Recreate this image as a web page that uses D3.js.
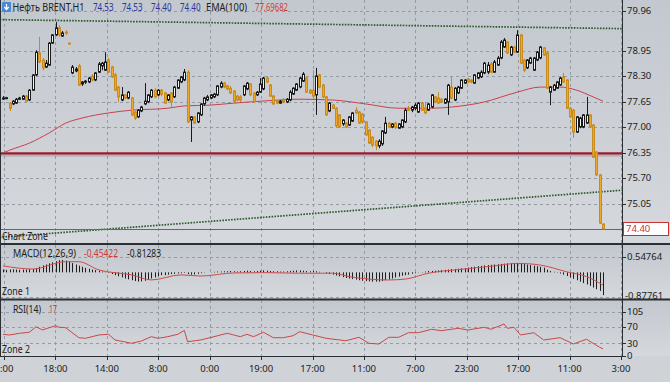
<!DOCTYPE html>
<html>
<head>
<meta charset="utf-8">
<script src="https://cdn.jsdelivr.net/npm/d3@7"></script>
<style>
  html, body { margin: 0; padding: 0; background: #cfd2d7; }
  svg { display: block; font-family: "Noto Sans", sans-serif; }
</style>
</head>
<body>
<svg id="chart" width="670" height="382"></svg>
<script>
// ---- data ----
const opens = [
  77.74,77.74,77.61,77.59,77.61,77.71,77.71,77.79,77.69,77.94,
  78.33,78.89,78.71,78.53,78.58,79.14,79.35,79.53,79.32,79.42,
  79.14,78.38,78.43,78.56,78.10,78.15,78.15,78.30,78.20,78.40,
  78.56,78.45,78.71,78.53,78.33,78.02,77.69,77.82,77.74,77.74,
  77.38,77.26,77.41,77.59,77.64,77.77,77.94,77.82,77.94,77.87,
  77.69,77.87,77.77,77.99,78.15,78.20,78.40,77.18,77.26,77.13,
  77.31,77.59,77.69,77.74,77.77,77.82,78.02,78.12,78.05,77.99,
  77.92,77.79,77.77,77.82,77.97,78.10,77.87,77.82,77.89,77.97,
  78.25,78.07,77.79,77.66,77.61,77.69,77.64,77.69,77.84,77.94,
  78.02,78.17,78.25,77.94,77.94,77.82,78.33,78.07,77.77,77.41,
  77.56,77.48,77.31,77.08,77.10,77.05,77.15,77.43,77.38,77.33,
  77.13,76.92,76.74,76.64,76.52,76.57,76.85,77.10,77.00,77.10,
  76.97,77.00,77.13,77.48,77.43,77.48,77.38,77.61,77.48,77.43,
  77.51,77.77,77.74,77.71,77.61,77.64,78.02,77.69,77.87,77.99,
  78.12,78.22,78.20,78.12,78.25,78.28,78.38,78.40,78.61,78.40,
  78.58,78.76,79.04,79.17,78.84,79.04,78.91,79.35,78.71,78.51,
  78.63,78.45,78.71,78.76,79.02,78.89,77.89,77.94,77.99,78.07,
  78.28,78.20,77.48,77.43,76.87,77.00,77.00,77.10,77.31,77.05,
  76.36,75.78,74.53
];
const highs = [
  77.79,77.77,77.64,77.69,77.74,77.77,77.82,77.82,77.97,78.35,
  78.96,79.30,78.76,78.71,79.17,79.37,79.68,79.60,79.45,79.47,
  79.15,78.58,78.53,78.61,78.17,78.20,78.28,78.35,78.40,78.66,
  78.66,78.91,78.76,78.56,78.38,78.05,78.02,77.84,77.92,77.77,
  77.41,77.46,77.54,78.12,77.84,77.97,77.99,77.97,77.97,77.89,
  77.84,77.89,78.05,78.22,78.30,78.48,78.45,77.28,77.28,77.38,
  77.61,77.77,77.82,77.84,77.87,78.07,78.17,78.15,78.07,78.05,
  77.94,77.82,77.82,78.07,78.15,78.12,77.89,77.92,78.25,78.28,
  78.30,78.10,77.82,77.69,77.69,77.74,77.74,77.94,78.02,78.12,
  78.28,78.40,78.28,77.97,78.45,78.51,78.35,78.10,77.79,77.64,
  77.59,77.51,77.33,77.20,77.13,77.28,77.38,77.51,77.41,77.36,
  77.15,76.95,76.77,76.67,76.69,76.92,77.26,77.13,77.10,77.13,
  77.10,77.20,77.48,77.54,77.54,77.61,77.64,77.64,77.64,77.61,
  77.84,77.79,77.89,77.74,77.74,78.10,78.28,78.02,78.05,78.22,
  78.22,78.25,78.22,78.35,78.40,78.45,78.66,78.66,78.66,78.71,
  78.81,79.22,79.27,79.19,79.07,79.07,79.47,79.37,78.73,78.73,
  78.79,78.79,78.94,79.07,79.04,78.91,78.05,78.10,78.17,78.28,
  78.38,78.22,77.51,77.46,77.28,77.26,77.33,77.77,77.33,77.08,
  76.39,75.80,74.53
];
const lows = [
  77.69,77.71,77.41,77.56,77.59,77.69,77.69,77.64,77.66,77.92,
  78.30,78.63,78.45,78.51,78.56,79.12,79.32,79.30,79.30,79.35,
  79.12,78.35,78.40,78.05,78.05,78.10,78.12,78.17,78.17,78.38,
  78.45,78.43,78.38,78.25,77.92,77.64,77.66,77.71,77.71,77.28,
  77.18,77.23,77.38,77.56,77.61,77.74,77.74,77.79,77.79,77.59,
  77.66,77.51,77.74,77.97,78.12,78.17,77.10,76.62,77.08,77.10,
  77.28,77.54,77.66,77.71,77.74,77.79,77.99,77.99,77.94,77.84,
  77.61,77.66,77.64,77.79,77.94,77.79,77.61,77.79,77.87,77.94,
  78.12,77.77,77.56,77.59,77.59,77.61,77.61,77.66,77.82,77.92,
  77.99,78.15,77.87,77.84,77.77,77.31,77.99,77.74,77.28,77.38,
  77.46,77.00,76.97,77.03,76.97,77.03,77.13,77.33,77.08,77.08,
  76.77,76.57,76.49,76.41,76.46,76.52,76.82,76.97,76.97,76.95,
  76.95,76.97,77.10,77.41,77.38,77.43,77.36,77.41,77.33,77.41,
  77.48,77.61,77.59,77.61,77.59,77.31,77.71,77.66,77.84,77.97,
  78.10,78.12,78.12,78.10,78.22,78.25,78.35,78.35,78.38,78.38,
  78.56,78.73,79.02,78.86,78.81,78.89,78.89,78.61,78.40,78.48,
  78.61,78.43,78.68,78.73,78.81,77.97,77.56,77.92,77.97,78.05,
  78.12,77.46,77.23,76.72,76.85,76.97,76.97,77.08,76.97,76.21,
  75.75,74.53,74.40
];
const closes = [
  77.74,77.75,77.48,77.66,77.71,77.74,77.79,77.66,77.94,78.33,
  78.91,78.66,78.51,78.63,79.14,79.35,79.53,79.35,79.40,79.40,
  79.12,78.53,78.48,78.07,78.15,78.17,78.25,78.20,78.38,78.61,
  78.63,78.66,78.40,78.28,77.94,77.77,77.82,77.74,77.89,77.31,
  77.23,77.43,77.51,77.66,77.82,77.94,77.77,77.94,77.84,77.61,
  77.82,77.64,78.02,78.20,78.28,78.40,77.13,77.26,77.10,77.36,
  77.59,77.74,77.77,77.82,77.84,78.05,78.12,78.02,77.97,77.87,
  77.66,77.69,77.69,78.05,78.12,77.82,77.64,77.89,78.10,78.25,
  78.15,77.79,77.59,77.61,77.66,77.64,77.71,77.89,77.99,78.10,
  78.25,78.35,77.89,77.87,77.79,78.30,78.02,77.77,77.31,77.61,
  77.48,77.03,77.00,77.18,77.00,77.26,77.36,77.36,77.10,77.13,
  76.80,76.59,76.54,76.52,76.64,76.90,77.10,77.00,77.08,77.00,
  77.08,77.18,77.43,77.43,77.51,77.56,77.61,77.43,77.36,77.59,
  77.82,77.64,77.61,77.64,77.71,78.07,77.74,77.99,78.02,78.20,
  78.20,78.15,78.15,78.33,78.38,78.40,78.63,78.58,78.40,78.66,
  78.76,79.17,79.22,78.89,79.04,78.91,79.35,78.63,78.45,78.71,
  78.76,78.76,78.91,79.04,78.84,77.99,78.02,78.07,78.15,78.25,
  78.15,77.48,77.26,76.87,77.26,77.23,77.31,77.31,77.00,76.23,
  75.78,74.55,74.40
];

// EMA(100) read at some bars
const emaIdx = [0,2,8,14,19,24,32,39,50,55,63,70,80,90,100,110,120,130,136,146,156,163,169,174,179,182];
const emaVal = [76.34,76.41,76.59,76.85,77.10,77.23,77.36,77.43,77.48,77.54,77.56,77.61,77.67,77.71,77.69,77.59,77.48,77.48,77.51,77.64,77.89,78.02,78.02,77.94,77.77,77.66];

// MACD histogram, one value per bar
const macdHist = [
  0.10,0.09,0.10,0.11,0.10,0.09,0.10,0.10,0.11,0.12,
  0.15,0.20,0.25,0.28,0.32,0.36,0.40,0.43,0.44,0.42,
  0.38,0.33,0.28,0.24,0.20,0.16,0.13,0.10,0.08,0.06,
  0.03,0.01,-0.02,-0.06,-0.10,-0.14,-0.18,-0.22,-0.25,-0.28,
  -0.31,-0.33,-0.32,-0.30,-0.26,-0.22,-0.18,-0.13,-0.10,-0.10,
  -0.08,-0.06,-0.05,-0.04,-0.03,-0.02,-0.06,-0.08,-0.07,-0.05,
  -0.03,-0.01,0.00,0.01,0.02,0.03,0.03,0.04,0.04,0.05,
  0.04,0.03,0.04,0.05,0.06,0.05,0.04,0.05,0.06,0.07,
  0.06,0.05,0.04,0.04,0.03,0.03,0.04,0.05,0.06,0.07,
  0.07,0.06,0.05,0.04,0.05,0.04,0.02,0.00,-0.03,-0.06,
  -0.08,-0.11,-0.14,-0.17,-0.20,-0.22,-0.24,-0.26,-0.28,-0.30,
  -0.31,-0.32,-0.33,-0.33,-0.33,-0.31,-0.28,-0.25,-0.22,-0.18,
  -0.15,-0.12,-0.10,-0.08,-0.05,-0.03,-0.01,0.01,0.03,0.05,
  0.05,0.06,0.07,0.08,0.09,0.10,0.11,0.12,0.13,0.14,
  0.15,0.17,0.19,0.20,0.22,0.23,0.25,0.26,0.27,0.28,
  0.29,0.30,0.31,0.32,0.32,0.33,0.33,0.32,0.30,0.28,
  0.26,0.24,0.22,0.20,0.17,0.10,0.05,0.02,-0.01,-0.04,
  -0.08,-0.13,-0.18,-0.23,-0.28,-0.33,-0.38,-0.43,-0.48,-0.54,
  -0.60,-0.66,-0.81283
];
const sigIdx = [0,9,19,23,29,39,45,54,60,70,80,90,100,105,117,122,129,139,149,156,163,171,177,182];
const sigVal = [0.23,0.12,0.38,0.38,0.09,-0.09,-0.27,-0.09,-0.13,-0.02,-0.01,-0.03,-0.03,-0.15,-0.27,-0.24,-0.03,0.11,0.23,0.32,0.26,0.02,-0.15,-0.45422];

// RSI(14) read at some bars
const rsiIdx = [0,2,5,8,10,12,14,16,17,19,23,25,29,32,34,39,42,45,47,50,53,55,56,60,64,68,70,72,74,76,79,82,85,88,90,94,98,104,108,111,114,117,120,123,126,130,133,138,141,146,148,152,153,155,157,161,164,169,173,177,181,182];
const rsiVal = [51.8,50.1,54.2,56.6,69.9,62.1,67.5,72.3,68.5,67.5,43.7,42.2,50.1,51.8,38.2,30.3,35.8,46.1,42.2,46.1,51.8,61,34.1,38.2,46.1,54.2,50.1,46.1,51.8,46.1,56.6,43.7,43.7,48.4,58,50.1,42.2,36.5,44.6,30.3,28.6,44.6,44.6,55.6,55.6,63.7,60.4,66.1,62.1,68.5,63.7,76.4,66.1,68.5,50.1,55.6,38.2,43.7,28.6,40,20.8,17];

// drawn objects
const levels = [76.33];
const lastPrice = 74.40;
const trendTop = [[-1, 79.74], [188, 79.51]];
const trendLow = [[-1, 74.19], [188, 75.39]];

// axis labels
const timeLabels = ["0:00","18:00","14:00","8:00","0:00","19:00","17:00","11:00","7:00","23:00","17:00","11:00","3:00"];
const priceTicks = [79.96, 78.95, 78.30, 77.65, 77.00, 76.35, 75.70, 75.05];
const macdTicks = [0.54764, -0.87761];
const rsiTicks = [105, 70, 30, 0];

// ---- layout ----
const WIDTH = 670;
const HEIGHT = 382;
const AXIS_X = 622;
const MAIN = {top: 0, bottom: 243};
const MACD = {top: 245, bottom: 298};
const RSI = {top: 300, bottom: 356};

const svg = d3.select("#chart");
const defs = svg.append("defs");

const grad = defs.append("linearGradient")
  .attr("id", "paneBg")
  .attr("x1", 0).attr("y1", 0).attr("x2", 0).attr("y2", 1);
grad.append("stop").attr("offset", "0%").attr("stop-color", "#c3c8cf");
grad.append("stop").attr("offset", "100%").attr("stop-color", "#d5d8dc");

defs.append("clipPath").attr("id", "clipMain")
  .append("rect").attr("x", 0).attr("y", MAIN.top).attr("width", AXIS_X).attr("height", MAIN.bottom - MAIN.top);
defs.append("clipPath").attr("id", "clipMacd")
  .append("rect").attr("x", 0).attr("y", MACD.top).attr("width", AXIS_X).attr("height", MACD.bottom - MACD.top);
defs.append("clipPath").attr("id", "clipRsi")
  .append("rect").attr("x", 0).attr("y", RSI.top).attr("width", AXIS_X).attr("height", RSI.bottom - RSI.top);

svg.append("rect").attr("width", WIDTH).attr("height", HEIGHT).attr("fill", "#cfd2d7");
[MAIN, MACD, RSI].forEach((p) => {
  svg.append("rect")
    .attr("x", 0).attr("y", p.top)
    .attr("width", WIDTH).attr("height", p.bottom - p.top)
    .attr("fill", "url(#paneBg)");
});

// scales
const xBar = d3.scaleLinear().domain([0, closes.length - 1]).range([3, 603]);
const xTime = d3.scalePoint().domain(d3.range(timeLabels.length)).range([4, 621]);
const yPrice = d3.scaleLinear().domain([74.40, 79.96]).range([229, 11]);
const yMacd = d3.scaleLinear().domain([-0.87761, 0.54764]).range([297, 257]);
const yRsi = d3.scaleLinear().domain([0, 105]).range([356, 312]);

const crisp = (v) => Math.round(v) + 0.5;

// grids
const grid = svg.append("g")
  .attr("stroke", "#949ba5")
  .attr("stroke-width", 1)
  .attr("stroke-dasharray", "3,3")
  .attr("fill", "none");

[MAIN, MACD, RSI].forEach((p) => {
  grid.selectAll(null)
    .data(d3.range(timeLabels.length))
    .enter()
    .append("line")
      .attr("x1", (d) => crisp(xTime(d)))
      .attr("x2", (d) => crisp(xTime(d)))
      .attr("y1", p.top)
      .attr("y2", p.bottom);
});
grid.selectAll(null).data(priceTicks).enter().append("line")
  .attr("x1", 0).attr("x2", AXIS_X)
  .attr("y1", (d) => crisp(yPrice(d))).attr("y2", (d) => crisp(yPrice(d)));
grid.selectAll(null).data(macdTicks).enter().append("line")
  .attr("x1", 0).attr("x2", AXIS_X)
  .attr("y1", (d) => crisp(yMacd(d))).attr("y2", (d) => crisp(yMacd(d)));
grid.selectAll(null).data(rsiTicks.filter((d) => d > 0)).enter().append("line")
  .attr("x1", 0).attr("x2", AXIS_X)
  .attr("y1", (d) => crisp(yRsi(d))).attr("y2", (d) => crisp(yRsi(d)));

// ---- main pane ----
const main = svg.append("g").attr("clip-path", "url(#clipMain)");

// trend lines
const trendLine = d3.line()
  .x((d) => xBar(d[0]))
  .y((d) => yPrice(d[1]));
[trendTop, trendLow].forEach((t) => {
  main.append("path")
    .attr("d", trendLine(t))
    .attr("fill", "none")
    .attr("stroke", "#2c5a2c")
    .attr("stroke-width", 1.7)
    .attr("stroke-dasharray", "1.6,1.3");
});

// horizontal levels
levels.forEach((lv) => {
  main.append("line")
    .attr("x1", 0).attr("x2", AXIS_X)
    .attr("y1", yPrice(lv) + 2).attr("y2", yPrice(lv) + 2)
    .attr("stroke", "#7c6a70").attr("stroke-opacity", 0.3).attr("stroke-width", 3);
  main.append("line")
    .attr("x1", 0).attr("x2", AXIS_X)
    .attr("y1", yPrice(lv)).attr("y2", yPrice(lv))
    .attr("stroke", "#9b1c2c").attr("stroke-width", 2.4);
});
main.append("line")
  .attr("x1", 0).attr("x2", AXIS_X)
  .attr("y1", crisp(yPrice(lastPrice))).attr("y2", crisp(yPrice(lastPrice)))
  .attr("stroke", "#cf3a3a").attr("stroke-width", 1);

// EMA
main.append("path")
  .datum(emaIdx.map((d, i) => [d, emaVal[i]]))
  .attr("d", d3.line().curve(d3.curveMonotoneX).x((d) => xBar(d[0])).y((d) => yPrice(d[1])))
  .attr("fill", "none")
  .attr("stroke", "#c8414c")
  .attr("stroke-width", 1);

// candles
const bars = closes.map((c, i) => ({i: i, o: opens[i], h: highs[i], l: lows[i], c: c}));
const candle = main.selectAll("g.candle")
  .data(bars)
  .enter()
  .append("g")
    .attr("class", "candle");

candle.append("line")
  .attr("x1", (d) => crisp(xBar(d.i)))
  .attr("x2", (d) => crisp(xBar(d.i)))
  .attr("y1", (d) => yPrice(d.h))
  .attr("y2", (d) => yPrice(d.l))
  .attr("stroke", (d) => d.c >= d.o ? "#1a1a1a" : "#c48a22")
  .attr("stroke-width", 1);

candle.append("rect")
  .attr("x", (d) => crisp(xBar(d.i)) - 1)
  .attr("width", 2)
  .attr("y", (d) => yPrice(Math.max(d.o, d.c)))
  .attr("height", (d) => Math.max(1, Math.abs(yPrice(d.o) - yPrice(d.c))))
  .attr("fill", (d) => d.c >= d.o ? "#f3f3f3" : "#f2a62a")
  .attr("stroke", (d) => d.c >= d.o ? "#1a1a1a" : "#c88b1e")
  .attr("stroke-width", 1);

// ---- MACD pane ----
const macd = svg.append("g").attr("clip-path", "url(#clipMacd)");
macd.selectAll("line.hist")
  .data(macdHist)
  .enter()
  .append("line")
    .attr("class", "hist")
    .attr("x1", (d, i) => crisp(xBar(i)))
    .attr("x2", (d, i) => crisp(xBar(i)))
    .attr("y1", yMacd(0))
    .attr("y2", (d) => yMacd(d))
    .attr("stroke", "#1e1e1e")
    .attr("stroke-width", 1);
macd.append("path")
  .datum(sigIdx.map((d, i) => [d, sigVal[i]]))
  .attr("d", d3.line().curve(d3.curveMonotoneX).x((d) => xBar(d[0])).y((d) => yMacd(d[1])))
  .attr("fill", "none")
  .attr("stroke", "#cf4a4a")
  .attr("stroke-width", 1);

// ---- RSI pane ----
const rsi = svg.append("g").attr("clip-path", "url(#clipRsi)");
rsi.append("path")
  .datum(rsiIdx.map((d, i) => [d, rsiVal[i]]))
  .attr("d", d3.line().x((d) => xBar(d[0])).y((d) => yRsi(d[1])))
  .attr("fill", "none")
  .attr("stroke", "#c84848")
  .attr("stroke-width", 1);

// ---- frames ----
const frame = svg.append("g").attr("stroke", "#2a2e35").attr("fill", "none");
frame.append("line").attr("x1", 0).attr("x2", WIDTH).attr("y1", 244).attr("y2", 244).attr("stroke-width", 2);
frame.append("line").attr("x1", 0).attr("x2", WIDTH).attr("y1", 299.5).attr("y2", 299.5).attr("stroke-width", 2);
frame.append("line").attr("x1", 0.5).attr("x2", 0.5).attr("y1", 0).attr("y2", RSI.bottom).attr("stroke-width", 1);
frame.append("line").attr("x1", AXIS_X + 0.5).attr("x2", AXIS_X + 0.5).attr("y1", 0).attr("y2", RSI.bottom + 1).attr("stroke-width", 1);
frame.append("line").attr("x1", 0).attr("x2", AXIS_X).attr("y1", RSI.bottom + 0.5).attr("y2", RSI.bottom + 0.5).attr("stroke-width", 1);

// ---- axes ----
const axisTxt = svg.append("g")
  .attr("font-size", "9.5px")
  .attr("fill", "#202020");

function rightLabels(ticks, scale, fmt) {
  ticks.forEach((t) => {
    const yy = scale(t);
    if (t >= 0) {
      svg.append("line")
        .attr("x1", AXIS_X).attr("x2", AXIS_X + 4)
        .attr("y1", crisp(yy)).attr("y2", crisp(yy))
        .attr("stroke", "#2a2e35");
    }
    axisTxt.append("text")
      .attr("x", AXIS_X + (t < 0 ? 3 : 5))
      .attr("y", t < 0 ? yy - 1 : yy)
      .attr("dy", "0.35em")
      .text(fmt(t));
  });
}
rightLabels(priceTicks, yPrice, (d) => d.toFixed(2));
rightLabels(macdTicks, yMacd, (d) => d.toFixed(5));
rightLabels(rsiTicks, yRsi, (d) => String(d));

// current price box
svg.append("rect")
  .attr("x", AXIS_X + 1.5).attr("y", yPrice(lastPrice) - 6.5)
  .attr("width", 45).attr("height", 13)
  .attr("fill", "#ffffff").attr("stroke", "#c83232");
svg.append("text")
  .attr("x", AXIS_X + 4).attr("y", yPrice(lastPrice))
  .attr("dy", "0.35em")
  .attr("font-size", "9.5px")
  .attr("fill", "#c83232")
  .text(lastPrice.toFixed(2));

// time axis
timeLabels.forEach((lab, i) => {
  svg.append("line")
    .attr("x1", crisp(xTime(i))).attr("x2", crisp(xTime(i)))
    .attr("y1", RSI.bottom).attr("y2", RSI.bottom + 4)
    .attr("stroke", "#2a2e35");
  axisTxt.append("text")
    .attr("x", xTime(i))
    .attr("y", 372)
    .attr("text-anchor", "middle")
    .text(lab);
});

// ---- pane captions ----
const cap = svg.append("g").attr("font-size", "10px").attr("fill", "#202020");

// caption text squeezed to the width it takes in the terminal
function caption(x, y, txt, w, color) {
  cap.append("text")
    .attr("x", x).attr("y", y)
    .attr("textLength", w)
    .attr("lengthAdjust", "spacingAndGlyphs")
    .attr("fill", color || "#202020")
    .text(txt);
}

const icon = svg.append("g");
icon.append("rect").attr("x", 2).attr("y", 2).attr("width", 9).attr("height", 10).attr("rx", 1).attr("fill", "#4a88d6");
icon.append("path").attr("d", "M6.5,4 L6.5,9 M4.3,7 L6.5,9.6 L8.7,7").attr("stroke", "#ffffff").attr("stroke-width", 1.3).attr("fill", "none");

caption(12.5, 11, "Нефть BRENT,H1", 72);
const ohlcX = [93, 122, 151, 180];
[opens[opens.length - 1], highs[highs.length - 1], lows[lows.length - 1], closes[closes.length - 1]].forEach((v, i) => {
  caption(ohlcX[i], 11, v.toFixed(2), 20.5, "#27389a");
});
caption(206, 11, "EMA(100)", 41);
caption(255, 11, "77.69682", 33, "#d03a3a");

caption(2, 240, "Chart Zone", 46);

caption(13, 257, "MACD(12,26,9)", 63);
caption(84, 257, "-0.45422", 34, "#d03a3a");
caption(127, 257, "-0.81283", 34);
caption(2, 295, "Zone 1", 28);

caption(13, 313, "RSI(14)", 28);
caption(49, 313, "17", 8, "#d03a3a");
caption(2, 353, "Zone 2", 28);
</script>
</body>
</html>
